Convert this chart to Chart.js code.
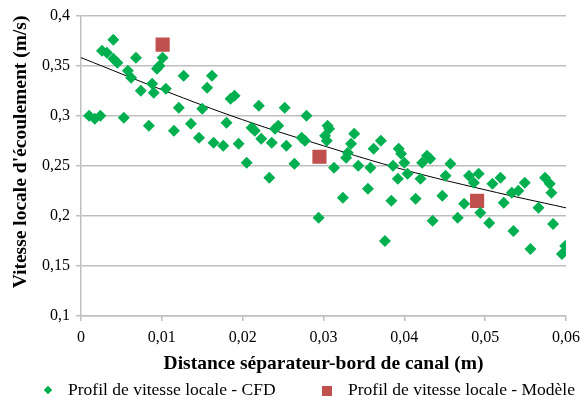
<!DOCTYPE html>
<html>
<head>
<meta charset="utf-8">
<script src="https://cdn.jsdelivr.net/npm/chart.js@4"></script>
<style>
  html, body { margin: 0; padding: 0; background: #fff; }
  #wrap { position: relative; width: 587px; height: 403px; }
  #legende { position: absolute; top: 379px; left: 0; width: 587px; height: 22px;
    font-family: 'Liberation Serif', 'Times New Roman', serif; font-size: 17.5px; color: #000; }
  .item { position: absolute; top: 0; white-space: nowrap; }
  .losange { display: inline-block; width: 6px; height: 6px; background: #00b050;
    transform: rotate(45deg); margin-right: 17px; vertical-align: 2px; }
  .carre { display: inline-block; width: 10px; height: 10px; background: #c0504d;
    margin-right: 16px; vertical-align: -1px; }
</style>
</head>
<body>
<div id="wrap">
  <canvas id="myChart" width="587" height="380"></canvas>
  <div id="legende"></div>
</div>
<script>
// Profil CFD (distance en m, vitesse en m/s)
const cfdX = [0.0010, 0.0017, 0.0024, 0.0026, 0.0032, 0.0040, 0.0040, 0.0045, 0.0053, 0.0058,
  0.0062, 0.0068, 0.0074, 0.0084, 0.0088, 0.0090, 0.0094, 0.0097, 0.0101, 0.0105,
  0.0115, 0.0121, 0.0127, 0.0136, 0.0146, 0.0150, 0.0156, 0.0162, 0.0164, 0.0176,
  0.0180, 0.0185, 0.0190, 0.0195, 0.0205, 0.0211, 0.0215, 0.0220, 0.0223, 0.0233,
  0.0236, 0.0240, 0.0244, 0.0252, 0.0254, 0.0264, 0.0273, 0.0277, 0.0279, 0.0294,
  0.0302, 0.0304, 0.0305, 0.0307, 0.0313, 0.0324, 0.0328, 0.0330, 0.0334, 0.0338,
  0.0343, 0.0355, 0.0358, 0.0362, 0.0371, 0.0376, 0.0384, 0.0386, 0.0392, 0.0393,
  0.0396, 0.0400, 0.0404, 0.0414, 0.0420, 0.0422, 0.0428, 0.0432, 0.0435, 0.0447,
  0.0451, 0.0457, 0.0466, 0.0474, 0.0480, 0.0486, 0.0492, 0.0494, 0.0505, 0.0509,
  0.0519, 0.0523, 0.0533, 0.0535, 0.0541, 0.0549, 0.0556, 0.0566, 0.0574, 0.0580,
  0.0582, 0.0584, 0.0595, 0.0599];
const cfdY = [0.300, 0.297, 0.300, 0.365, 0.363, 0.376, 0.357, 0.353, 0.298, 0.345,
  0.338, 0.358, 0.325, 0.290, 0.332, 0.323, 0.347, 0.350, 0.358, 0.327,
  0.285, 0.308, 0.340, 0.292, 0.278, 0.307, 0.328, 0.340, 0.273, 0.270,
  0.293, 0.317, 0.320, 0.272, 0.253, 0.288, 0.285, 0.310, 0.277, 0.238,
  0.273, 0.287, 0.290, 0.308, 0.270, 0.252, 0.278, 0.275, 0.300, 0.198,
  0.280, 0.275, 0.290, 0.287, 0.248, 0.218, 0.258, 0.263, 0.272, 0.282,
  0.250, 0.227, 0.248, 0.267, 0.275, 0.175, 0.215, 0.250, 0.237, 0.267,
  0.262, 0.253, 0.242, 0.217, 0.237, 0.253, 0.260, 0.257, 0.195, 0.220,
  0.240, 0.252, 0.198, 0.212, 0.240, 0.233, 0.242, 0.203, 0.193, 0.232,
  0.238, 0.213, 0.223, 0.185, 0.225, 0.233, 0.167, 0.208, 0.238, 0.232,
  0.223, 0.192, 0.162, 0.170];

// Profil du modèle
const modeleX = [0.0101, 0.0295, 0.0490];
const modeleY = [0.371, 0.259, 0.215];

// Courbe de tendance
const tendX = [0, 0.01, 0.02, 0.03, 0.04, 0.05, 0.06];
const tendY = [0.358, 0.326, 0.296, 0.270, 0.246, 0.226, 0.208];

const xTicks = [0, 0.01, 0.02, 0.03, 0.04, 0.05, 0.06];
const yTicks = [0.1, 0.15, 0.2, 0.25, 0.3, 0.35, 0.4];

const police = "'Liberation Serif', 'Times New Roman', serif";
const virgule = v => (Math.round(v * 1000) / 1000).toString().replace('.', ',');
const points = (xs, ys) => xs.map((x, i) => ({ x: x, y: ys[i] }));

const ctx = document.getElementById('myChart').getContext('2d');
const chart = new Chart(ctx, {
  type: 'scatter',
  data: {
    datasets: [
      {
        label: 'Profil de vitesse locale - CFD',
        data: points(cfdX, cfdY),
        pointStyle: 'rectRot',
        pointRadius: 6,
        backgroundColor: '#00b050',
        borderColor: '#00b050',
        borderWidth: 0
      },
      {
        label: 'Profil de vitesse locale - Modèle',
        data: points(modeleX, modeleY),
        pointStyle: 'rect',
        pointRadius: 10,
        backgroundColor: '#c0504d',
        borderColor: '#c0504d',
        borderWidth: 0
      },
      {
        label: 'tendance',
        data: points(tendX, tendY),
        showLine: true,
        pointRadius: 0,
        borderColor: '#000',
        borderWidth: 1,
        tension: 0.4
      }
    ]
  },
  options: {
    responsive: false,
    animation: false,
    layout: { padding: { top: 10, right: 18, left: 0, bottom: 0 } },
    plugins: {
      tooltip: { enabled: false },
      legend: { display: false }
    },
    scales: {
      x: {
        type: 'linear',
        min: 0,
        max: 0.06,
        afterBuildTicks: axis => { axis.ticks = xTicks.map(v => ({ value: v })); },
        afterFit: axis => { axis.height = 64; },
        ticks: { callback: virgule, color: '#000', font: { family: police, size: 16 }, padding: 7, maxRotation: 0 },
        grid: { drawOnChartArea: false, drawTicks: true, tickLength: 5, color: '#bfbfbf', lineWidth: 1.5 },
        border: { color: '#bfbfbf', width: 1.5 },
        title: {
          display: true,
          text: 'Distance séparateur-bord de canal (m)',
          color: '#000',
          font: { family: police, size: 19.5, weight: 'bold' },
          padding: { top: 0, bottom: 4 }
        }
      },
      y: {
        min: 0.1,
        max: 0.4,
        afterBuildTicks: axis => { axis.ticks = yTicks.map(v => ({ value: v })); },
        afterFit: axis => { axis.width = 81; },
        ticks: { callback: virgule, color: '#000', font: { family: police, size: 16 }, padding: 6 },
        grid: { color: '#bfbfbf', lineWidth: 1.5, tickLength: 5 },
        border: { color: '#bfbfbf', width: 1.5 },
        title: {
          display: true,
          align: 'end',
          text: "Vitesse locale d'écoulement (m/s)",
          color: '#000',
          font: { family: police, size: 19.5, weight: 'bold' },
          padding: { top: 9, bottom: 0 }
        }
      }
    }
  }
});

// Légende en HTML, à partir des jeux de données
const legende = document.getElementById('legende');
const posLegende = [45, 322];
chart.data.datasets.slice(0, 2).forEach((ds, i) => {
  const item = document.createElement('span');
  item.className = 'item';
  item.style.left = posLegende[i] + 'px';
  const marque = document.createElement('span');
  marque.className = i === 0 ? 'losange' : 'carre';
  item.appendChild(marque);
  item.appendChild(document.createTextNode(ds.label));
  legende.appendChild(item);
});
</script>
</body>
</html>
